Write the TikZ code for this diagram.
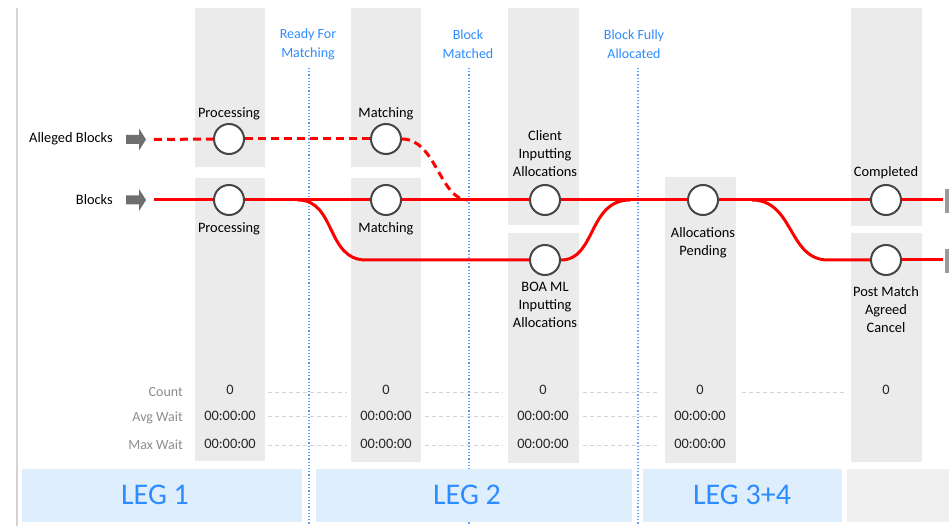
\documentclass[tikz,border=0pt]{standalone}
\usepackage{fontspec}
\setmainfont{Carlito}
\usepackage{xcolor}
\usepackage{tikz}
\usetikzlibrary{arrows.meta,positioning,calc}
\definecolor{lnred}{RGB}{255,0,0}
\definecolor{msblue}{RGB}{45,140,255}
\definecolor{dotblue}{RGB}{95,160,255}
\definecolor{legfill}{RGB}{222,238,253}
\definecolor{colgray}{RGB}{235,235,235}
\definecolor{bandgray}{RGB}{240,240,240}
\definecolor{ringgray}{RGB}{70,70,70}
\definecolor{arrgray}{RGB}{110,110,110}
\definecolor{statgray}{RGB}{140,140,140}
\definecolor{guidegray}{RGB}{212,212,212}
\tikzset{
  stn/.style={circle, draw=ringgray, line width=2pt, fill=white,
              minimum size=30pt, inner sep=0pt},
  lbl/.style={align=center, font=\fontsize{14.4}{18}\selectfont, inner sep=1pt},
  mslbl/.style={align=center, font=\fontsize{14}{19}\selectfont, text=msblue, inner sep=1pt},
  stat/.style={font=\fontsize{14}{17}\selectfont, text=statgray, anchor=east, inner sep=1pt},
  val/.style={font=\fontsize{14.4}{17}\selectfont, text=black!85, inner sep=1pt},
  endbar/.style={rectangle, fill=arrgray!70, inner sep=0pt,
                 minimum width=4pt, minimum height=24pt},
  rl/.style={draw=lnred, line width=3pt},
  rld/.style={rl, dash pattern=on 8pt off 5pt},
  ms/.style={draw=dotblue, line width=1.2pt, dotted},
  guide/.style={draw=guidegray, line width=0.7pt, dash pattern=on 4pt off 3pt},
  leg/.style={fill=legfill},
  legtxt/.style={font=\fontsize{30}{30}\selectfont, text=msblue},
}
% fat grey input arrow ending at #1
\newcommand\inarrow[1]{%
  \fill[arrgray] (#1) -- ++(-7,-11) -- ++(0,6.5) -- ++(-13,0) -- ++(0,9)
    -- ++(13,0) -- ++(0,6.5) -- cycle;}

\begin{document}
\begin{tikzpicture}[x=1pt,y=-1pt]
\useasboundingbox (0,0) rectangle (949,526);
\draw[guidegray, line width=2pt] (17,8) -- (17,526);

% grey state columns
\fill[colgray] (195,8) rectangle (265,167);
\fill[colgray] (195,178) rectangle (265,461);
\fill[colgray] (351,8) rectangle (421,167);
\fill[colgray] (351,178) rectangle (421,462);
\fill[colgray] (508,8) rectangle (579,225);
\fill[colgray] (508,233) rectangle (579,463);
\fill[colgray] (665,177) rectangle (736,463);
\fill[colgray] (851,8) rectangle (922,226);
\fill[colgray] (851,233) rectangle (922,462);

% milestones
\node[mslbl] (rfm) at (308,44) {Ready For\\Matching};
\node[mslbl] (bmt) at (468,44) {Block\\Matched};
\node[mslbl] (bfa) at (634,44) {Block Fully\\Allocated};
\draw[ms] (309,68) -- (309,526);
\draw[ms] (469,68) -- (469,526);
\draw[ms] (638,68) -- (638,526);

% stations
\node[stn] (ap) at (229,139) {};
\node[stn] (am) at (386,139) {};
\node[stn] (bp) at (229,200) {};
\node[stn] (bm) at (386,200) {};
\node[stn] (ci) at (545,200) {};
\node[stn] (bi) at (545,260) {};
\node[stn] (pa) at (703,200) {};
\node[stn] (co) at (886,200) {};
\node[stn] (pc) at (886,260) {};

\node[lbl, above=2pt of ap] {Processing};
\node[lbl, above=2pt of am] {Matching};
\node[lbl, below=5pt of bp] {Processing};
\node[lbl, below=5pt of bm] {Matching};
\node[lbl, above=6.5pt of ci] {Client\\Inputting\\Allocations};
\node[lbl, below=4.5pt of bi] {BOA ML\\Inputting\\Allocations};
\node[lbl, below=10pt of pa] {Allocations\\Pending};
\node[lbl, above=4pt of co] {Completed};
\node[lbl, below=9pt of pc] {Post Match\\Agreed\\Cancel};

% inputs
\coordinate (ain) at (146,139.5);
\coordinate (bin) at (146,200);
\inarrow{ain}
\inarrow{bin}
\node[lbl, anchor=east] at (114,139) {Alleged Blocks};
\node[lbl, anchor=east] at (114,200) {Blocks};
\node[endbar] (e1) at (947,201) {};
\node[endbar] (e2) at (947,261) {};

% alleged blocks (dashed)
\draw[rld] ([xshift=8pt]ain) -- (ap.west);
\draw[rld] (ap.east) -- (am.west);
\draw[rld] (am.east) .. controls (436,139) and (440,200) .. (468,200);

% blocks
\draw[rl] ([xshift=8pt]bin) -- (bp.west);
\draw[rl] (bp.east) -- (bm.west);
\draw[rl] (bm.east) -- (ci.west);
\draw[rl] (ci.east) -- (pa.west);
\draw[rl] (pa.east) -- (co.west);
\draw[rl] (co.east) -- ([xshift=-2pt]e1.west |- co.east);
\draw[rl] (298,200) .. controls (336,200) and (326,260) .. (366,260) -- (bi.west);
\draw[rl] (bi.east) .. controls (596,260) and (588,200) .. (630,200);
\draw[rl] (752,200) .. controls (794,200) and (788,260) .. (828,260) -- (pc.west);
\draw[rl] (pc.east) -- ([xshift=-2pt]e2.west |- pc.east);

% stats
\node[stat] (sc) at (184,392) {Count};
\node[stat] (sa) at (184,418) {Avg Wait};
\node[stat] (sm) at (184,445) {Max Wait};
\foreach \x in {230,386,543,700} {
  \node[val] at (\x,390) {0};
  \node[val] at (\x,416) {00:00:00};
  \node[val] at (\x,444) {00:00:00};
}
\node[val] at (886,390) {0};
\foreach \a/\b in {268/347,425/503,583/660} {
  \foreach \y in {392,416,445}
    \draw[guide] (\a,\y) -- (\b,\y);
}
\draw[guide] (742,392) -- (847,392);

% legs
\fill[leg] (22,469) rectangle (302,522);
\fill[leg] (316,469) rectangle (632,522);
\fill[leg] (643,469) rectangle (842,522);
\fill[bandgray] (847,469) rectangle (949,522);
\node[legtxt] (l1) at (155,495) {LEG 1};
\node[legtxt] (l2) at (467,495) {LEG 2};
\node[legtxt] (l3) at (742,495) {LEG 3+4};
\end{tikzpicture}
\end{document}
